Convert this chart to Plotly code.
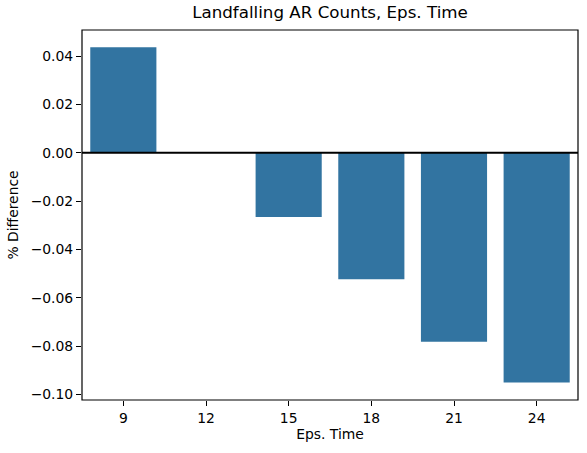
import plotly.graph_objects as go

# Eps. time categories and the % difference of landfalling AR counts
eps_time = ["9", "12", "15", "18", "21", "24"]
pct_diff = [0.0437, 0.0, -0.0266, -0.0523, -0.0782, -0.0951]

y_ticks = [-0.10, -0.08, -0.06, -0.04, -0.02, 0.00, 0.02, 0.04]

BAR_COLOR = "#3274a1"
FONT = "DejaVu Sans"

fig = go.Figure()
fig.add_trace(go.Bar(
    x=eps_time, y=pct_diff,
    marker=dict(color=BAR_COLOR, line=dict(width=0)),
    width=0.8,
))

# zero line (axhline)
fig.add_shape(type="line", xref="paper", yref="y", x0=0, x1=1, y0=0, y1=0,
              line=dict(color="black", width=2))
# axes frame (matplotlib spines)
fig.add_shape(type="rect", xref="paper", yref="paper", x0=0, x1=1, y0=0, y1=1,
              line=dict(color="black", width=1.2), layer="above")

axis_common = dict(
    showgrid=False, zeroline=False, automargin=False,
    showline=False,
    ticks="outside", ticklen=5, tickwidth=1.1, tickcolor="black",
    tickfont=dict(family=FONT, size=13.9, color="black"),
)

fig.update_layout(
    width=587, height=453,
    margin=dict(l=82, r=9, t=30, b=53, autoexpand=False),
    paper_bgcolor="white", plot_bgcolor="white",
    showlegend=False,
    bargap=0.2,
    font=dict(family=FONT, color="black"),
    title=dict(text="Landfalling AR Counts, Eps. Time",
               font=dict(family=FONT, size=16.7, color="black"),
               x=(82 + 578) / 2 / 587, xanchor="center",
               yref="container", y=1 - 6 / 453, yanchor="top"),
    xaxis=dict(axis_common, type="category", range=[-0.5, 5.5],
               title=dict(text="Eps. Time", standoff=4,
                          font=dict(family=FONT, size=13.9, color="black"))),
    yaxis=dict(axis_common, range=[-0.1023, 0.0508],
               tickvals=y_ticks, tickformat=".2f",
               title=dict(text="% Difference", standoff=8,
                          font=dict(family=FONT, size=13.9, color="black"))),
)

# drop the browser's default body margin so the figure sits at (0, 0)
fig.write_html("out.html", config={"displayModeBar": False},
               post_script="document.body.style.margin='0';document.body.style.overflow='hidden';")
